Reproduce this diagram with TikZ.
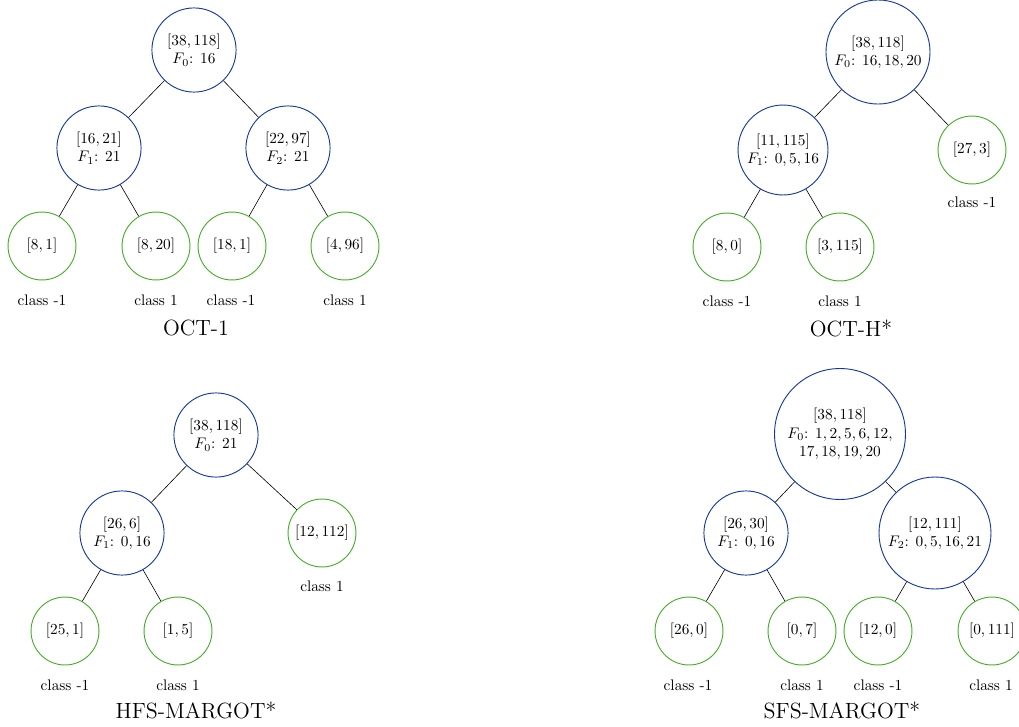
\documentclass[tikz,border=0pt]{standalone}
\usepackage{amsmath,amsfonts}
\usepackage{tikz}

\definecolor{nodeblue}{RGB}{20,55,160}
\definecolor{leafgreen}{RGB}{70,175,40}

\begin{document}
\begin{tikzpicture}[x=0.6536pt,y=-0.6536pt,
  split/.style={circle,draw=nodeblue,line width=0.6pt,align=center,inner sep=0pt,minimum size=55pt},
  leaf/.style={circle,draw=leafgreen,line width=0.6pt,inner sep=0pt,minimum size=44.4pt},
  title/.style={font=\Large}]
\useasboundingbox (0,0) rectangle (1019,727);

% OCT-1
\node[split] (a0) at (194,50) {\([38,118]\)\\\(F_0\): \(16\)};
\node[split] (a1) at (99,148) {\([16,21]\)\\\(F_1\): \(21\)};
\node[split] (a2) at (288,148) {\([22,97]\)\\\(F_2\): \(21\)};
\node[leaf] (a3) at (42,246) {\([8,1]\)};
\node[leaf] (a4) at (156,246) {\([8,20]\)};
\node[leaf] (a5) at (232,246) {\([18,1]\)};
\node[leaf] (a6) at (345,246) {\([4,96]\)};
\draw (a0) -- (a1);
\draw (a0) -- (a2);
\draw (a1) -- (a3);
\draw (a1) -- (a4);
\draw (a2) -- (a5);
\draw (a2) -- (a6);
\node (ca3) at (42,300) {class -1};
\node (ca4) at (156,300) {class 1};
\node (ca5) at (231,300) {class -1};
\node (ca6) at (345,300) {class 1};
\node[title] (ta) at (196,328) {OCT-1};

% OCT-H*
\node[split,minimum size=68pt] (b0) at (878,52) {\([38,118]\)\\\(F_0\): \(16,18,20\)};
\node[split,minimum size=58.8pt] (b1) at (783,150) {\([11,115]\)\\\(F_1\): \(0,5,16\)};
\node[leaf] (b2) at (972,150) {\([27,3]\)};
\node[leaf] (b3) at (727,247) {\([8,0]\)};
\node[leaf] (b4) at (840,247) {\([3,115]\)};
\draw (b0) -- (b1);
\draw (b0) -- (b2);
\draw (b1) -- (b3);
\draw (b1) -- (b4);
\node (cb2) at (972,202) {class -1};
\node (cb3) at (727,301) {class -1};
\node (cb4) at (840,301) {class 1};
\node[title] (tb) at (851,328) {OCT-H*};

% HFS-MARGOT*
\node[split] (c0) at (216,435) {\([38,118]\)\\\(F_0\): \(21\)};
\node[split] (c1) at (122,533) {\([26,6]\)\\\(F_1\): \(0,16\)};
\node[leaf] (c2) at (322,533) {\([12,112]\)};
\node[leaf] (c3) at (65,631) {\([25,1]\)};
\node[leaf] (c4) at (178,631) {\([1,5]\)};
\draw (c0) -- (c1);
\draw (c0) -- (c2);
\draw (c1) -- (c3);
\draw (c1) -- (c4);
\node (cc2) at (322,586) {class 1};
\node (cc3) at (65,685) {class -1};
\node (cc4) at (178,685) {class 1};
\node[title] (tc) at (196,710) {HFS-MARGOT*};

% SFS-MARGOT*
\node[split,minimum size=85.6pt] (d0) at (840,434) {\([38,118]\)\\\(F_0\): \(1,2,5,6,12,\)\\\(17,18,19,20\)};
\node[split] (d1) at (746,533) {\([26,30]\)\\\(F_1\): \(0,16\)};
\node[split,minimum size=73.2pt] (d2) at (935,533) {\([12,111]\)\\\(F_2\): \(0,5,16,21\)};
\node[leaf] (d3) at (689,631) {\([26,0]\)};
\node[leaf] (d4) at (802,631) {\([0,7]\)};
\node[leaf] (d5) at (878,631) {\([12,0]\)};
\node[leaf] (d6) at (992,631) {\([0,111]\)};
\draw (d0) -- (d1);
\draw (d0) -- (d2);
\draw (d1) -- (d3);
\draw (d1) -- (d4);
\draw (d2) -- (d5);
\draw (d2) -- (d6);
\node (cd3) at (688,685) {class -1};
\node (cd4) at (802,685) {class 1};
\node (cd5) at (878,685) {class -1};
\node (cd6) at (991,685) {class 1};
\node[title] (td) at (842,710) {SFS-MARGOT*};

\end{tikzpicture}
\end{document}
